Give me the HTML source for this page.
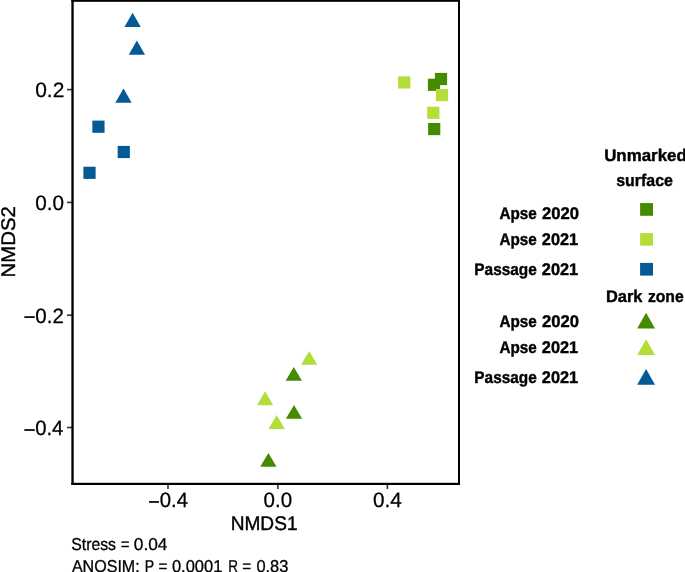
<!DOCTYPE html>
<html>
<head>
<meta charset="utf-8">
<style>
html,body{margin:0;padding:0;background:#fff;}
body{width:685px;height:572px;overflow:hidden;}
svg{display:block;will-change:transform;}
text{font-family:"Liberation Sans",sans-serif;fill:#000;stroke:#000;text-rendering:geometricPrecision;}
.ax{font-size:20.75px;stroke-width:0.25px;}
.at{font-size:19.7px;stroke-width:0.4px;}
.lg{font-weight:bold;font-size:16.9px;stroke-width:0.4px;}
.nt{font-size:17.2px;stroke-width:0.3px;}
</style>
</head>
<body>
<svg width="685" height="572" viewBox="0 0 685 572">
<g stroke="#333" stroke-width="1.6">
<line x1="67" y1="89.6" x2="72" y2="89.6"/>
<line x1="67" y1="202.4" x2="72" y2="202.4"/>
<line x1="67" y1="315.2" x2="72" y2="315.2"/>
<line x1="67" y1="427.5" x2="72" y2="427.5"/>
<line x1="168.0" y1="484" x2="168.0" y2="489"/>
<line x1="277.9" y1="484" x2="277.9" y2="489"/>
<line x1="387.4" y1="484" x2="387.4" y2="489"/>
</g>
<rect x="434.90" y="72.90" width="12.20" height="12.20" fill="#458B00"/>
<rect x="427.90" y="78.70" width="12.20" height="12.20" fill="#458B00"/>
<rect x="428.10" y="122.95" width="12.20" height="12.20" fill="#458B00"/>
<rect x="398.10" y="76.35" width="12.20" height="12.20" fill="#B3DE3A"/>
<rect x="435.90" y="88.95" width="12.20" height="12.20" fill="#B3DE3A"/>
<rect x="427.20" y="106.70" width="12.20" height="12.20" fill="#B3DE3A"/>
<rect x="92.35" y="120.60" width="12.20" height="12.20" fill="#045A92"/>
<rect x="117.65" y="145.90" width="12.20" height="12.20" fill="#045A92"/>
<rect x="83.40" y="166.70" width="12.20" height="12.20" fill="#045A92"/>
<path d="M293.80,366.90L301.95,380.80L285.65,380.80Z" fill="#458B00"/>
<path d="M294.00,404.90L302.15,418.80L285.85,418.80Z" fill="#458B00"/>
<path d="M268.40,452.90L276.55,466.80L260.25,466.80Z" fill="#458B00"/>
<path d="M309.20,350.90L317.35,364.80L301.05,364.80Z" fill="#B3DE3A"/>
<path d="M265.10,391.30L273.25,405.20L256.95,405.20Z" fill="#B3DE3A"/>
<path d="M276.70,415.00L284.85,428.90L268.55,428.90Z" fill="#B3DE3A"/>
<path d="M132.60,12.80L140.75,26.90L124.45,26.90Z" fill="#045A92"/>
<path d="M136.90,40.50L145.05,54.80L128.75,54.80Z" fill="#045A92"/>
<path d="M123.50,88.60L131.65,102.70L115.35,102.70Z" fill="#045A92"/>
<g fill="#000"><rect x="71.35" y="0" width="388.65" height="1.80"/><rect x="71.35" y="482.8" width="388.65" height="2.20"/><rect x="71.35" y="0" width="2.35" height="485.00"/><rect x="458.0" y="0" width="2.00" height="485.00"/></g>
<rect x="640.1" y="203.1" width="12.90" height="12.70" fill="#458B00"/>
<rect x="640.1" y="233.05" width="12.90" height="12.65" fill="#B3DE3A"/>
<rect x="640.1" y="262.9" width="12.90" height="12.70" fill="#045A92"/>
<path d="M646.10,312.65L655.05,328.60L637.15,328.60Z" fill="#458B00"/>
<path d="M646.10,339.20L655.05,355.10L637.15,355.10Z" fill="#B3DE3A"/>
<path d="M646.10,368.90L655.05,384.80L637.15,384.80Z" fill="#045A92"/>
<text class="ax" x="35.21" y="97.00" textLength="29.13" lengthAdjust="spacingAndGlyphs">0.2</text>
<text class="ax" x="35.28" y="210.00" textLength="28.84" lengthAdjust="spacingAndGlyphs">0.0</text>
<text class="ax" x="23.34" y="323.00" textLength="40.53" lengthAdjust="spacingAndGlyphs"><tspan fill="none" stroke="none">&#8722;</tspan>0.2</text>
<text class="ax" x="23.30" y="435.00" textLength="40.13" lengthAdjust="spacingAndGlyphs"><tspan fill="none" stroke="none">&#8722;</tspan>0.4</text>
<text class="ax" x="147.80" y="507.00" textLength="40.24" lengthAdjust="spacingAndGlyphs"><tspan fill="none" stroke="none">&#8722;</tspan>0.4</text>
<text class="ax" x="263.61" y="507.00" textLength="28.52" lengthAdjust="spacingAndGlyphs">0.0</text>
<text class="ax" x="372.94" y="507.00" textLength="28.79" lengthAdjust="spacingAndGlyphs">0.4</text>
<text class="at" x="230.65" y="530.00" textLength="66.90" lengthAdjust="spacingAndGlyphs">NMDS1</text>
<text class="at" transform="translate(14.86,277.40) rotate(-90)" textLength="71.36" lengthAdjust="spacingAndGlyphs">NMDS2</text>
<text class="lg" x="604.18" y="161.00">Unmarked</text>
<text class="lg" x="616.24" y="186.00" textLength="56.65" lengthAdjust="spacingAndGlyphs">surface</text>
<text class="lg" x="499.39" y="219.00" textLength="37.33" lengthAdjust="spacingAndGlyphs">Apse</text>
<text class="lg" x="541.92" y="219.00" textLength="37.00" lengthAdjust="spacingAndGlyphs">2020</text>
<text class="lg" x="499.39" y="245.00" textLength="37.33" lengthAdjust="spacingAndGlyphs">Apse</text>
<text class="lg" x="541.87" y="245.00" textLength="36.33" lengthAdjust="spacingAndGlyphs">2021</text>
<text class="lg" x="474.37" y="275.00" textLength="62.39" lengthAdjust="spacingAndGlyphs">Passage</text>
<text class="lg" x="541.87" y="275.00" textLength="36.33" lengthAdjust="spacingAndGlyphs">2021</text>
<text class="lg" x="499.39" y="327.00" textLength="37.33" lengthAdjust="spacingAndGlyphs">Apse</text>
<text class="lg" x="541.92" y="327.00" textLength="37.00" lengthAdjust="spacingAndGlyphs">2020</text>
<text class="lg" x="499.39" y="353.00" textLength="37.33" lengthAdjust="spacingAndGlyphs">Apse</text>
<text class="lg" x="541.87" y="353.00" textLength="36.33" lengthAdjust="spacingAndGlyphs">2021</text>
<text class="lg" x="474.37" y="383.00" textLength="62.39" lengthAdjust="spacingAndGlyphs">Passage</text>
<text class="lg" x="541.87" y="383.00" textLength="36.33" lengthAdjust="spacingAndGlyphs">2021</text>
<text class="lg" x="605.94" y="302.00" textLength="36.47" lengthAdjust="spacingAndGlyphs">Dark</text>
<text class="lg" x="647.90" y="302.00" textLength="35.83" lengthAdjust="spacingAndGlyphs">zone</text>
<text class="nt" x="71.23" y="550.00" textLength="44.77" lengthAdjust="spacingAndGlyphs">Stress</text>
<text class="nt" x="120.68" y="550.00" textLength="8.78" lengthAdjust="spacingAndGlyphs">=</text>
<text class="nt" x="133.83" y="550.00" textLength="33.62" lengthAdjust="spacingAndGlyphs">0.04</text>
<text class="nt" x="71.88" y="572.00" textLength="67.80" lengthAdjust="spacingAndGlyphs">ANOSIM:</text>
<text class="nt" x="144.82" y="572.00" textLength="9.37" lengthAdjust="spacingAndGlyphs">P</text>
<text class="nt" x="158.53" y="572.00" textLength="8.94" lengthAdjust="spacingAndGlyphs">=</text>
<text class="nt" x="171.95" y="572.00" textLength="50.46" lengthAdjust="spacingAndGlyphs">0.0001</text>
<text class="nt" x="228.32" y="572.00" textLength="9.77" lengthAdjust="spacingAndGlyphs">R</text>
<text class="nt" x="242.35" y="572.00" textLength="8.94" lengthAdjust="spacingAndGlyphs">=</text>
<text class="nt" x="256.39" y="572.00" textLength="32.00" lengthAdjust="spacingAndGlyphs">0.83</text>
<rect x="24.34" y="316.25" width="10.51" height="1.7" fill="#000"/>
<rect x="24.34" y="429.15" width="10.51" height="1.7" fill="#000"/>
<rect x="149.04" y="501.10" width="9.93" height="1.7" fill="#000"/>
</svg>
</body>
</html>
